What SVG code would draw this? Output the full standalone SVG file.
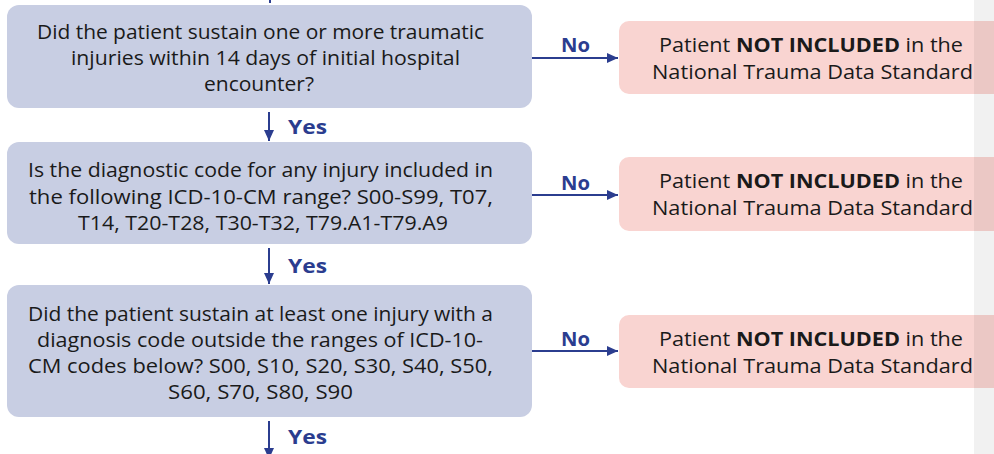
<svg xmlns="http://www.w3.org/2000/svg" width="994" height="454" viewBox="0 0 994 454">
<style>
.q{fill:#c8cee3}
.x{fill:#f9d4d1}
.t{font-family:"Open Sans",Lato,sans-serif;font-size:20px;fill:#1a1a1a}
.b{font-weight:bold}
.l{font-family:"Open Sans",Lato,sans-serif;font-size:20px;font-weight:bold;fill:#2b3d8f}
.c{stroke:#2b3d8f;stroke-width:2;fill:none}
</style>
<defs>
<marker id="ah" viewBox="0 0 11 10" refX="11" refY="5" markerWidth="11" markerHeight="10" orient="auto" markerUnits="userSpaceOnUse">
<path d="M0,0 L11,5 L0,10 Z" fill="#2b3d8f"/>
</marker>
</defs>
<rect width="994" height="454" fill="#ffffff"/>
<g id="connectors">
<line class="c" x1="270" y1="0" x2="270" y2="3"/>
<line class="c" x1="269" y1="112" x2="269" y2="141" marker-end="url(#ah)"/>
<line class="c" x1="269" y1="248" x2="269" y2="284" marker-end="url(#ah)"/>
<line class="c" x1="269" y1="421" x2="269" y2="459" marker-end="url(#ah)"/>
<line class="c" x1="532" y1="58" x2="618" y2="58" marker-end="url(#ah)"/>
<line class="c" x1="532" y1="195" x2="618" y2="195" marker-end="url(#ah)"/>
<line class="c" x1="532" y1="351" x2="618" y2="351" marker-end="url(#ah)"/>
<text class="l" x="288" y="134" textLength="39" lengthAdjust="spacingAndGlyphs">Yes</text>
<text class="l" x="288" y="273" textLength="39" lengthAdjust="spacingAndGlyphs">Yes</text>
<text class="l" x="288" y="444" textLength="39" lengthAdjust="spacingAndGlyphs">Yes</text>
<text class="l" x="561" y="52" textLength="29" lengthAdjust="spacingAndGlyphs">No</text>
<text class="l" x="561" y="190" textLength="29" lengthAdjust="spacingAndGlyphs">No</text>
<text class="l" x="561" y="346" textLength="29" lengthAdjust="spacingAndGlyphs">No</text>
</g>
<g id="q1">
<rect class="q" x="7" y="5" width="525" height="103" rx="12"/>
<text class="t" x="37" y="39" textLength="447" lengthAdjust="spacingAndGlyphs">Did the patient sustain one or more traumatic</text>
<text class="t" x="71" y="65" textLength="389" lengthAdjust="spacingAndGlyphs">injuries within 14 days of initial hospital</text>
<text class="t" x="204" y="91" textLength="110" lengthAdjust="spacingAndGlyphs">encounter?</text>
</g>
<g id="q2">
<rect class="q" x="7" y="142" width="525" height="102" rx="12"/>
<text class="t" x="28" y="177" textLength="465" lengthAdjust="spacingAndGlyphs">Is the diagnostic code for any injury included in</text>
<text class="t" x="29" y="204" textLength="464" lengthAdjust="spacingAndGlyphs">the following ICD-10-CM range? S00-S99, T07,</text>
<text class="t" x="78" y="230" textLength="370" lengthAdjust="spacingAndGlyphs">T14, T20-T28, T30-T32, T79.A1-T79.A9</text>
</g>
<g id="q3">
<rect class="q" x="7" y="285" width="525" height="132" rx="12"/>
<text class="t" x="28" y="321" textLength="465" lengthAdjust="spacingAndGlyphs">Did the patient sustain at least one injury with a</text>
<text class="t" x="37" y="347" textLength="446" lengthAdjust="spacingAndGlyphs">diagnosis code outside the ranges of ICD-10-</text>
<text class="t" x="28" y="373" textLength="465" lengthAdjust="spacingAndGlyphs">CM codes below? S00, S10, S20, S30, S40, S50,</text>
<text class="t" x="168" y="399" textLength="185" lengthAdjust="spacingAndGlyphs">S60, S70, S80, S90</text>
</g>
<g id="n1">
<rect class="x" x="619" y="21" width="390" height="73" rx="10"/>
<text class="t" x="659" y="52" textLength="304" lengthAdjust="spacingAndGlyphs">Patient <tspan class="b">NOT INCLUDED</tspan> in the</text>
<text class="t" x="652" y="79" textLength="321" lengthAdjust="spacingAndGlyphs">National Trauma Data Standard</text>
</g>
<g id="n2">
<rect class="x" x="619" y="157" width="390" height="74" rx="10"/>
<text class="t" x="659" y="188" textLength="304" lengthAdjust="spacingAndGlyphs">Patient <tspan class="b">NOT INCLUDED</tspan> in the</text>
<text class="t" x="652" y="215" textLength="321" lengthAdjust="spacingAndGlyphs">National Trauma Data Standard</text>
</g>
<g id="n3">
<rect class="x" x="619" y="315" width="390" height="73" rx="10"/>
<text class="t" x="659" y="346" textLength="304" lengthAdjust="spacingAndGlyphs">Patient <tspan class="b">NOT INCLUDED</tspan> in the</text>
<text class="t" x="652" y="373" textLength="321" lengthAdjust="spacingAndGlyphs">National Trauma Data Standard</text>
</g>
<rect x="974" y="0" width="20" height="454" fill="#000000" fill-opacity="0.055"/>
</svg>
